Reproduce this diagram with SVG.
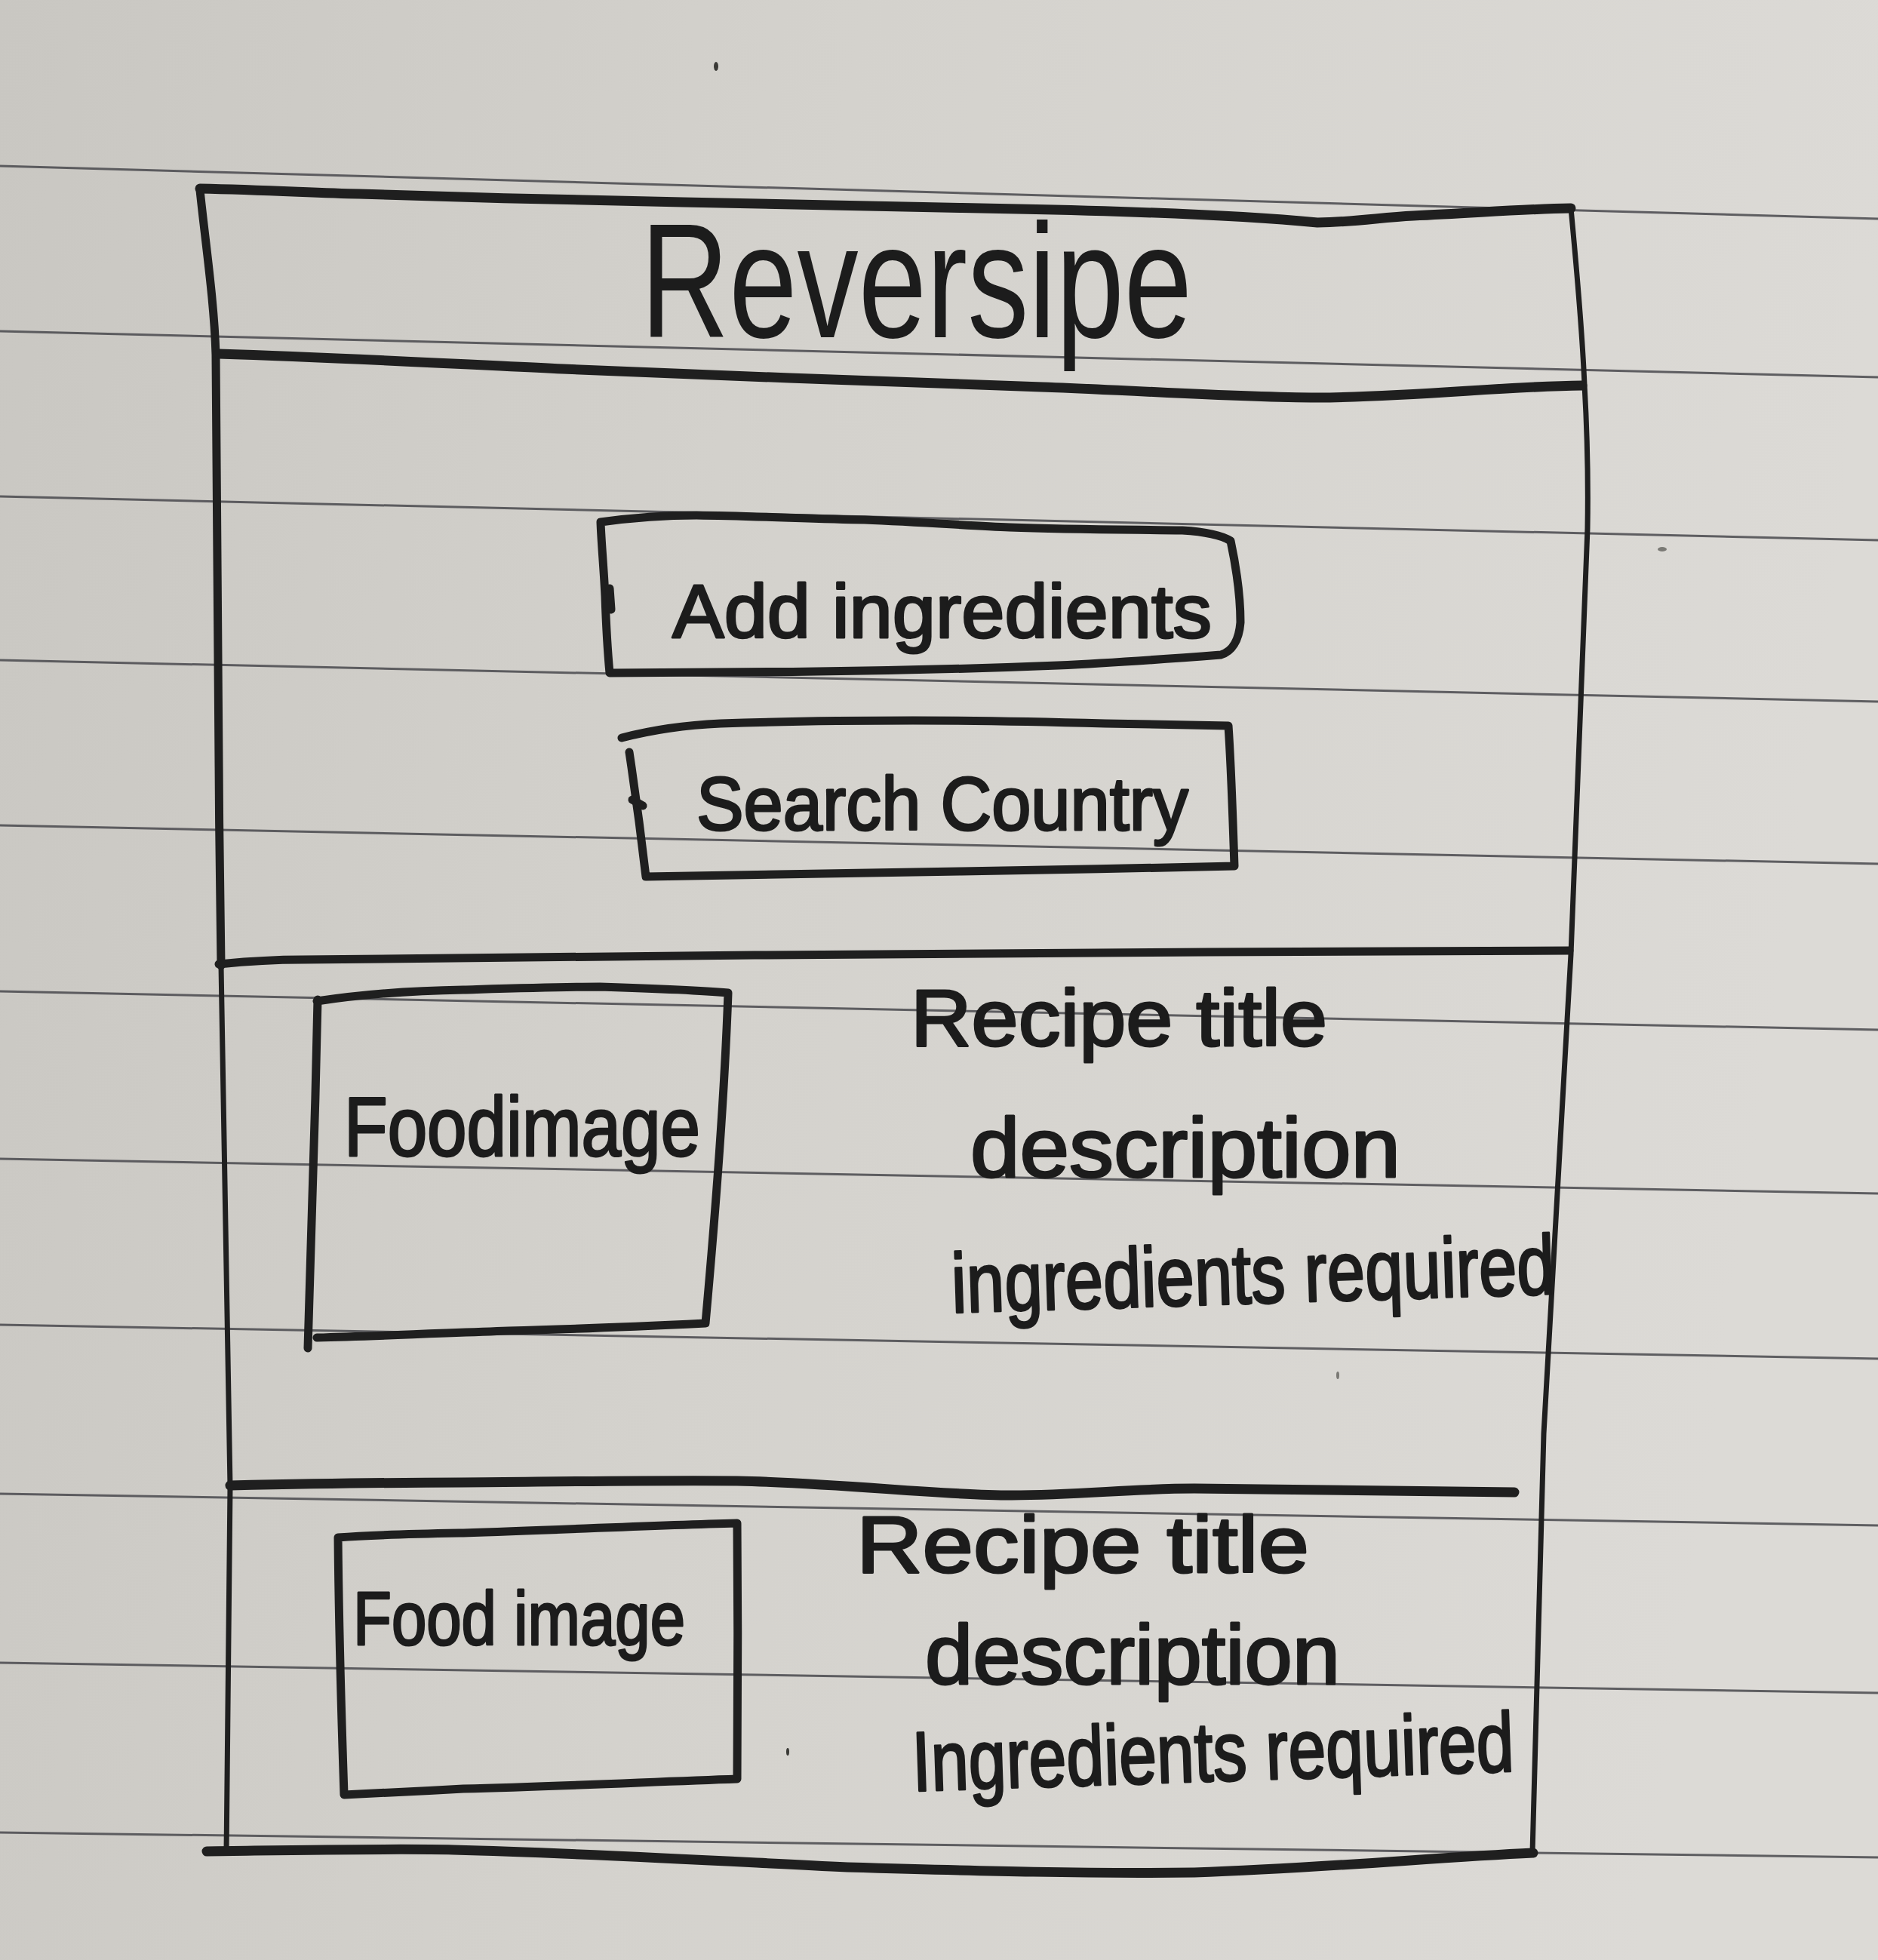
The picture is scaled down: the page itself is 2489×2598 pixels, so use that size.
<svg xmlns="http://www.w3.org/2000/svg" width="2489" height="2598" viewBox="0 0 2489 2598">
  <defs>
    <linearGradient id="paperShade" x1="0" y1="0" x2="1" y2="0.15">
      <stop offset="0" stop-color="#c9c7c2"/>
      <stop offset="0.45" stop-color="#d4d2cd"/>
      <stop offset="1" stop-color="#dcdad6"/>
    </linearGradient>
    <style>
      .rule { stroke: #48484c; stroke-width: 3; fill: none; opacity: 0.85; }
      .ink { stroke: #1f1f1f; fill: none; stroke-linecap: round; stroke-linejoin: round; }
      .heavy { stroke-width: 13; }
      .mid { stroke-width: 11; }
      .thin { stroke-width: 7; }
      .hand { font-family: "Liberation Sans", Arial, sans-serif; fill: #1c1c1c; stroke: #1c1c1c; stroke-width: 3; stroke-linejoin: round; }
      .title { font-family: "Liberation Sans", Arial, sans-serif; fill: #1c1c1c; }
      .speck { fill: #3a3a36; }
    </style>
  </defs>

  <!-- paper -->
  <rect id="paper" x="0" y="0" width="2489" height="2598" fill="url(#paperShade)"/>

  <!-- ruled lines of the notebook page -->
  <g id="ruled-lines">
    <line class="rule" x1="0" y1="220" x2="2489" y2="290"/>
    <line class="rule" x1="0" y1="439" x2="2489" y2="500"/>
    <line class="rule" x1="0" y1="658" x2="2489" y2="716"/>
    <line class="rule" x1="0" y1="875" x2="2489" y2="930"/>
    <line class="rule" x1="0" y1="1094" x2="2489" y2="1145"/>
    <line class="rule" x1="0" y1="1314" x2="2489" y2="1365"/>
    <line class="rule" x1="0" y1="1536" x2="2489" y2="1582"/>
    <line class="rule" x1="0" y1="1756" x2="2489" y2="1801"/>
    <line class="rule" x1="0" y1="1980" x2="2489" y2="2022"/>
    <line class="rule" x1="0" y1="2204" x2="2489" y2="2244"/>
    <line class="rule" x1="0" y1="2429" x2="2489" y2="2462"/>
  </g>

  <!-- paper specks -->
  <g id="specks">
    <ellipse class="speck" cx="949" cy="88" rx="3" ry="6"/>
    <ellipse class="speck" cx="2203" cy="728" rx="6" ry="3" fill-opacity="0.6"/>
    <ellipse class="speck" cx="1044" cy="2322" rx="2" ry="5"/>
    <ellipse class="speck" cx="1773" cy="1823" rx="2" ry="5" fill-opacity="0.6"/>
  </g>

  <!-- outer page frame -->
  <g id="page-frame">
    <path class="ink heavy" d="M265,250 C360,252 420,256 476,257 C620,262 760,265 905,268 C1050,272 1200,274 1349,277 C1500,280 1650,286 1746,295 C1800,294 1830,288 1873,286 C1960,282 2020,277 2082,276"/>
    <path class="ink mid" d="M265,252 C272,320 284,400 286,470 C287,700 289,1000 293,1280"/>
    <path class="ink thin" d="M293,1280 C296,1500 302,1750 305,1970 C304,2150 302,2300 300,2452"/>
    <path class="ink thin" d="M2082,276 C2090,360 2097,440 2100,510 C2104,580 2105,640 2104,700 C2098,900 2088,1100 2082,1265 C2070,1480 2056,1700 2046,1900 C2040,2100 2034,2300 2031,2456"/>
    <path class="ink heavy" d="M274,2454 C420,2452 520,2450 601,2452 C760,2456 900,2464 1123,2475 C1300,2480 1450,2484 1583,2482 C1760,2476 1900,2462 2032,2456"/>
  </g>

  <!-- app header -->
  <g id="header">
    <path class="ink heavy" d="M290,469 C450,474 600,482 746,489 C950,498 1180,506 1381,513 C1520,518 1640,527 1746,527 C1880,526 1990,512 2097,511"/>
    <text class="title" x="849" y="447" font-size="215" textLength="731" lengthAdjust="spacingAndGlyphs">Reversipe</text>
  </g>

  <!-- search panel -->
  <g id="add-ingredients">
    <path class="ink mid" d="M796,692 C840,686 880,683 923,683 C1000,684 1080,688 1146,689 C1220,692 1290,697 1338,699 C1420,702 1500,702 1567,703 C1600,705 1620,710 1631,717 C1638,750 1644,790 1644,825 C1642,850 1632,864 1618,868 C1540,874 1470,879 1402,882 C1300,886 1220,888 1146,889 C1030,891 900,892 808,892 C805,860 803,820 802,790 C800,750 797,720 796,692 Z"/>
    <path class="ink mid" d="M808,780 L810,808"/>
    <text class="hand" x="891" y="845" font-size="100" textLength="715" lengthAdjust="spacingAndGlyphs">Add ingredients</text>
  </g>

  <g id="search-country">
    <path class="ink mid" d="M824,978 C870,966 910,961 955,959 C1040,956 1130,955 1210,955 C1300,955 1390,957 1465,959 C1530,960 1590,961 1628,962 C1632,1020 1634,1090 1636,1148 C1520,1151 1390,1153 1274,1155 C1120,1158 980,1160 856,1162 C850,1110 842,1050 834,997"/>
    <path class="ink mid" d="M838,1060 L852,1068"/>
    <text class="hand" x="923" y="1100" font-size="100" textLength="652" lengthAdjust="spacingAndGlyphs">Search Country</text>
  </g>

  <path id="divider-search" class="ink mid" d="M290,1278 C330,1274 360,1272 400,1272 C600,1270 800,1268 1000,1266 C1200,1265 1400,1264 1600,1262 C1780,1261 1930,1261 2080,1260"/>

  <!-- first recipe card -->
  <g id="food-image-1">
    <path class="ink mid" d="M420,1327 C480,1318 550,1313 614,1312 C680,1310 740,1308 795,1308 C860,1310 920,1312 965,1316 C960,1460 948,1610 935,1754 C850,1758 760,1762 674,1764 C590,1767 500,1771 420,1773 M421,1325 C418,1480 412,1640 408,1787"/>
    <text class="hand" x="456" y="1532" font-size="112" textLength="472" lengthAdjust="spacingAndGlyphs">Foodimage</text>
  </g>

  <g id="recipe-details-1">
    <text class="hand" x="1207" y="1386" font-size="105" textLength="552" lengthAdjust="spacingAndGlyphs">Recipe title</text>
    <text class="hand" x="1286" y="1560" font-size="112" textLength="570" lengthAdjust="spacingAndGlyphs">description</text>
    <text class="hand" x="1262" y="1740" font-size="112" textLength="800" lengthAdjust="spacingAndGlyphs" transform="rotate(-1.8 1262 1740)">ingredients required</text>
  </g>

  <path id="divider-recipes" class="ink heavy" d="M305,1969 C400,1967 500,1965 614,1965 C740,1964 860,1962 977,1963 C1120,1966 1240,1982 1341,1982 C1430,1982 1500,1973 1583,1973 C1730,1974 1870,1977 2007,1978"/>

  <!-- second recipe card -->
  <g id="food-image-2">
    <path class="ink mid" d="M448,2038 C500,2034 560,2033 614,2032 C740,2028 860,2022 977,2019 C978,2130 978,2250 977,2358 C860,2362 740,2368 614,2371 C560,2374 500,2377 456,2379 C452,2260 449,2150 448,2038 Z"/>
    <text class="hand" x="468" y="2180" font-size="100" textLength="440" lengthAdjust="spacingAndGlyphs">Food image</text>
  </g>

  <g id="recipe-details-2">
    <text class="hand" x="1135" y="2084" font-size="105" textLength="600" lengthAdjust="spacingAndGlyphs">Recipe title</text>
    <text class="hand" x="1226" y="2232" font-size="112" textLength="550" lengthAdjust="spacingAndGlyphs">description</text>
    <text class="hand" x="1210" y="2374" font-size="112" textLength="798" lengthAdjust="spacingAndGlyphs" transform="rotate(-1.9 1210 2374)">Ingredients required</text>
  </g>
</svg>
